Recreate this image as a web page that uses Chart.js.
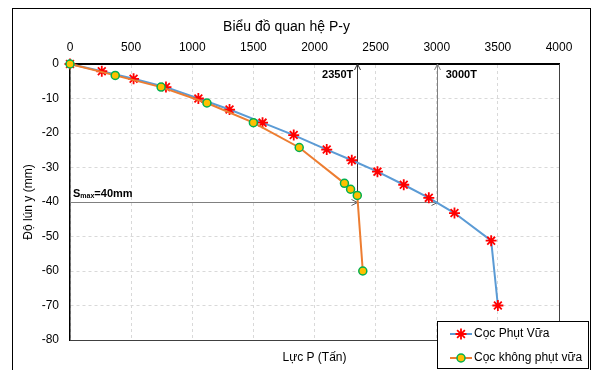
<!DOCTYPE html>
<html>
<head>
<meta charset="utf-8">
<script src="https://cdn.jsdelivr.net/npm/chart.js@4"></script>
<style>
  html, body { margin: 0; padding: 0; background: #fff; }
  #wrap { width: 595px; height: 370px; }
</style>
</head>
<body>
<div id="wrap"><canvas id="chart" width="595" height="370"></canvas></div>
<script>
// Cọc Phụt Vữa
const pGrout = [0, 260, 520, 785, 1050, 1305, 1575, 1830, 2100, 2305, 2515, 2730, 2935, 3145, 3445, 3500];
const yGrout = [0, -2.1, -4.3, -6.7, -10, -13.2, -17, -20.6, -24.8, -27.9, -31.2, -35, -38.8, -43.2, -51.2, -70];
// Cọc không phụt vữa
const pPlain = [0, 370, 745, 1120, 1500, 1875, 2245, 2295, 2350, 2395];
const yPlain = [0, -3.3, -6.7, -11.3, -17, -24.2, -34.6, -36.3, -38.1, -60];

const seriesNames = ['Cọc Phụt Vữa', 'Cọc không phụt vữa'];
const limitLoads = [2350, 3000];   // T
const sMax = -40;                  // mm

const FONT = '"Liberation Sans", Arial, sans-serif';

const toPoints = (xs, ys) => xs.map((x, i) => ({ x: x, y: ys[i] }));

function arrowHead(ctx, x, y, dir) {
  // open arrow head, dir = 'up' or 'right'
  const l = 6, w = 3;
  ctx.beginPath();
  if (dir === 'up') {
    ctx.moveTo(x - w, y + l); ctx.lineTo(x, y); ctx.lineTo(x + w, y + l);
  } else {
    ctx.moveTo(x - l, y - w); ctx.lineTo(x, y); ctx.lineTo(x - l, y + w);
  }
  ctx.stroke();
}

function drawStar(ctx, x, y, r) {
  ctx.beginPath();
  ctx.moveTo(x - r, y); ctx.lineTo(x + r, y);
  ctx.moveTo(x, y - r); ctx.lineTo(x, y + r);
  const d = r * Math.SQRT1_2;
  ctx.moveTo(x - d, y - d); ctx.lineTo(x + d, y + d);
  ctx.moveTo(x - d, y + d); ctx.lineTo(x + d, y - d);
  ctx.stroke();
}

const extras = {
  id: 'extras',
  beforeDatasetsDraw(chart) {
    const { ctx, chartArea: a, scales } = chart;
    const xs = scales.x, ys = scales.y;
    ctx.save();
    // plot frame right / bottom
    ctx.strokeStyle = '#404040';
    ctx.lineWidth = 1;
    ctx.beginPath();
    ctx.moveTo(a.right + 0.5, a.top);
    ctx.lineTo(a.right + 0.5, a.bottom + 0.5);
    ctx.lineTo(a.left, a.bottom + 0.5);
    ctx.stroke();

    const yS = Math.round(ys.getPixelForValue(sMax)) + 0.5;
    // horizontal S max line
    ctx.strokeStyle = '#808080';
    ctx.beginPath();
    ctx.moveTo(a.left, yS);
    ctx.lineTo(xs.getPixelForValue(limitLoads[1]), yS);
    ctx.stroke();
    limitLoads.forEach((p, i) => {
      const x = Math.round(xs.getPixelForValue(p)) + 0.5;
      ctx.strokeStyle = '#606060';
      arrowHead(ctx, x, yS, 'right');
      ctx.strokeStyle = i === 0 ? '#303030' : '#808080';
      ctx.beginPath();
      ctx.moveTo(x, yS);
      ctx.lineTo(x, a.top);
      ctx.stroke();
      arrowHead(ctx, x, a.top, 'up');
    });

    ctx.fillStyle = '#000';
    ctx.font = 'bold 11px ' + FONT;
    ctx.textBaseline = 'middle';
    ctx.textAlign = 'right';
    ctx.fillText(limitLoads[0] + 'T', xs.getPixelForValue(limitLoads[0]) - 4, a.top + 11);
    ctx.textAlign = 'left';
    ctx.fillText(limitLoads[1] + 'T', xs.getPixelForValue(limitLoads[1]) + 9, a.top + 11);

    // S max label
    let tx = a.left + 3;
    const ty = yS - 9;
    ctx.fillText('S', tx, ty);
    tx += ctx.measureText('S').width;
    ctx.font = 'bold 7px ' + FONT;
    ctx.fillText('max', tx, ty + 3);
    tx += ctx.measureText('max').width;
    ctx.font = 'bold 11px ' + FONT;
    ctx.fillText('=' + Math.abs(sMax) + 'mm', tx, ty);
    ctx.restore();
  },
  afterDraw(chart) {
    const { ctx } = chart;
    ctx.save();
    // outer frame
    ctx.strokeStyle = '#000';
    ctx.lineWidth = 1;
    ctx.strokeRect(12.5, 8.5, 578, 380);

    // legend
    const bx = 437.5, by = 321.5, bw = 151, bh = 47;
    ctx.fillStyle = '#fff';
    ctx.fillRect(bx, by, bw, bh);
    ctx.strokeStyle = '#000';
    ctx.strokeRect(bx, by, bw, bh);
    const rows = [334, 358];
    chart.data.datasets.forEach((ds, i) => {
      const y = rows[i];
      ctx.strokeStyle = ds.borderColor;
      ctx.lineWidth = 2;
      ctx.beginPath();
      ctx.moveTo(450, y);
      ctx.lineTo(472, y);
      ctx.stroke();
      ctx.fillStyle = ds.pointBackgroundColor;
      ctx.strokeStyle = ds.pointBorderColor;
      ctx.lineWidth = ds.pointBorderWidth;
      if (ds.pointStyle === 'circle') {
        ctx.beginPath();
        ctx.arc(461, y, ds.pointRadius, 0, Math.PI * 2);
        ctx.fill();
        ctx.stroke();
      } else {
        drawStar(ctx, 461, y, ds.pointRadius);
      }
      ctx.fillStyle = '#000';
      ctx.font = '12px ' + FONT;
      ctx.textAlign = 'left';
      ctx.textBaseline = 'middle';
      ctx.fillText(ds.label, 474, y);
    });
    ctx.restore();
  }
};

new Chart(document.getElementById('chart'), {
  type: 'scatter',
  plugins: [extras],
  data: {
    datasets: [
      {
        label: seriesNames[0],
        data: toPoints(pGrout, yGrout),
        showLine: true,
        clip: false,
        borderColor: '#5B9BD5',
        borderWidth: 2,
        pointStyle: 'star',
        pointRadius: 5.5,
        pointBorderColor: '#FF0000',
        pointBackgroundColor: '#FF0000',
        pointBorderWidth: 1.8,
        order: 2
      },
      {
        label: seriesNames[1],
        data: toPoints(pPlain, yPlain),
        showLine: true,
        clip: false,
        borderColor: '#ED7D31',
        borderWidth: 2,
        pointStyle: 'circle',
        pointRadius: 4,
        pointBorderColor: '#00B050',
        pointBackgroundColor: '#FFC000',
        pointBorderWidth: 1.5,
        order: 1
      }
    ]
  },
  options: {
    responsive: false,
    animation: false,
    layout: { padding: { left: 14, right: 36, top: 0, bottom: 0 } },
    plugins: {
      legend: { display: false },
      tooltip: { enabled: false },
      title: {
        display: true,
        text: 'Biểu đồ quan hệ P-y',
        color: '#000',
        font: { family: FONT, size: 14, weight: 'normal' },
        padding: { top: 19, bottom: 0 }
      }
    },
    scales: {
      x: {
        type: 'linear',
        position: 'top',
        min: 0,
        max: 4000,
        afterFit: (s) => { s.height = 28.2; },
        ticks: {
          stepSize: 500,
          padding: 9,
          color: '#000',
          font: { family: FONT, size: 12 },
          callback: (v) => String(v)
        },
        grid: {
          color: '#D9D9D9',
          drawTicks: false
        },
        border: { color: '#000', width: 2, dash: [3, 3] }
      },
      xb: {
        type: 'linear',
        position: 'bottom',
        min: 0,
        max: 4000,
        afterFit: (s) => { s.height = 30; },
        ticks: { display: false },
        grid: { display: false, drawTicks: false },
        border: { display: false },
        title: {
          display: true,
          text: 'Lực P (Tấn)',
          color: '#000',
          font: { family: FONT, size: 12 },
          padding: { top: 0, bottom: 5 }
        }
      },
      y: {
        min: -80,
        max: 0,
        afterFit: (s) => { s.width = 56; },
        ticks: {
          stepSize: 10,
          padding: 11,
          color: '#000',
          font: { family: FONT, size: 12 },
          callback: (v) => String(v)
        },
        grid: {
          color: '#D9D9D9',
          drawTicks: false
        },
        border: { color: '#000', width: 1.5, dash: [3, 3] },
        title: {
          display: true,
          text: 'Độ lún y (mm)',
          color: '#000',
          font: { family: FONT, size: 12 },
          padding: { top: 7, bottom: 0 }
        }
      }
    }
  }
});
</script>
</body>
</html>
